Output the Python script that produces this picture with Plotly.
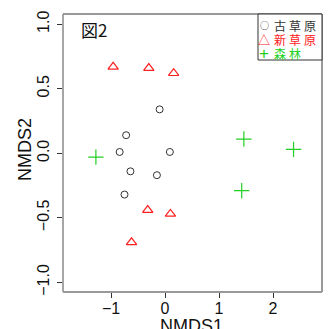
import plotly.graph_objects as go

# data
old_x = [-0.10, -0.72, -0.84, 0.09, -0.64, -0.15, -0.75]
old_y = [0.34, 0.14, 0.01, 0.01, -0.14, -0.17, -0.32]
new_x = [-0.96, -0.30, 0.16, -0.32, 0.10, -0.62]
new_y = [0.67, 0.66, 0.62, -0.44, -0.47, -0.69]
forest_x = [-1.28, 1.46, 2.38, 1.42]
forest_y = [-0.03, 0.11, 0.03, -0.29]
legend_labels = ["古草原", "新草原", "森林"]
x_ticks = [-1, 0, 1, 2]
y_ticks = [-1.0, -0.5, 0.0, 0.5, 1.0]

RED = "#ff2020"
GREEN = "#22d022"
FONT = "Liberation Sans, Arial, sans-serif"
CJK = "Noto Sans CJK JP, sans-serif"

W, H = 331, 329
L, R, T, B = 63, 322, 14, 292
pw, ph = R - L, B - T
def px(x): return (x - L) / pw
def py(y): return (B - y) / ph

fig = go.Figure()
fig.add_trace(go.Scatter(x=old_x, y=old_y, mode="markers",
    marker=dict(symbol="circle-open", size=7, color="#333333", line=dict(width=1)),
    showlegend=False))
fig.add_trace(go.Scatter(x=new_x, y=new_y, mode="markers",
    marker=dict(symbol="triangle-up-open", size=9, color=RED, line=dict(width=1.2)),
    showlegend=False))
fig.add_trace(go.Scatter(x=forest_x, y=forest_y, mode="markers",
    marker=dict(symbol="cross-thin-open", size=11, color=GREEN, line=dict(width=1.2)),
    showlegend=False))

fig.update_layout(
    width=W, height=H,
    margin=dict(l=L, r=W - R, t=T, b=H - B, autoexpand=False),
    plot_bgcolor="white", paper_bgcolor="white",
    font=dict(family=FONT, color="#111111", size=15),
    xaxis=dict(range=[-1.889, 2.907], tickvals=x_ticks, ticks="outside", ticklen=5,
               tickcolor="#333333", showgrid=False, zeroline=False, showline=False,
               tickfont=dict(size=16), automargin=False, ticklabelstandoff=-3),
    yaxis=dict(range=[-1.075, 1.079], tickvals=y_ticks, tickformat=".1f",
               ticks="outside", ticklen=5, tickcolor="#333333", tickangle=-90,
               showgrid=False, zeroline=False, showline=False,
               tickfont=dict(size=16), automargin=False, ticklabelstandoff=2),
)

shapes = [
    dict(type="line", xref="paper", yref="paper", x0=0, x1=1, y0=1, y1=1, line=dict(color="#333333", width=1)),
    dict(type="line", xref="paper", yref="paper", x0=0, x1=0, y0=0, y1=1, line=dict(color="#888888", width=1.5)),
    dict(type="line", xref="paper", yref="paper", x0=1, x1=1, y0=0, y1=1, line=dict(color="#999999", width=2)),
    dict(type="line", xref="paper", yref="paper", x0=0, x1=1, y0=0, y1=0, line=dict(color="#999999", width=2)),
    dict(type="rect", xref="paper", yref="paper", x0=px(258), x1=1, y0=py(60), y1=1,
         line=dict(color="#333333", width=1), fillcolor="white"),
]
fig.update_layout(shapes=shapes)

def note(text, x, y, size, family, color="#111111", xanchor="center", angle=0):
    return dict(text=text, x=px(x), y=py(y), xref="paper", yref="paper",
                xanchor=xanchor, yanchor="middle", showarrow=False, textangle=angle,
                font=dict(size=size, family=family, color=color))

ann = []
ann.append(note("NMDS2", 25, 150, 18, FONT, angle=-90))
ann.append(note("NMDS1", 191, 326, 18, FONT))
ann.append(note("図2", 79, 30, 17, CJK, xanchor="left"))
syms = ["○", "△", "+"]
sym_sizes = [9, 12, 17]
sym_fonts = [CJK, CJK, FONT]
cols = ["#333333", RED, GREEN]
rows = [26, 40, 53]
for s, ss, sf, lab, c, ry in zip(syms, sym_sizes, sym_fonts, legend_labels, cols, rows):
    ann.append(note(s, 264, ry, ss, sf, c))
    ann.append(note("\u2005".join(lab), 272, ry, 12, CJK, c, xanchor="left"))
fig.update_layout(annotations=ann)

fig.write_html("out.html", config={"displayModeBar": False},
               post_script="document.body.style.margin='0';document.body.style.overflow='hidden';")
